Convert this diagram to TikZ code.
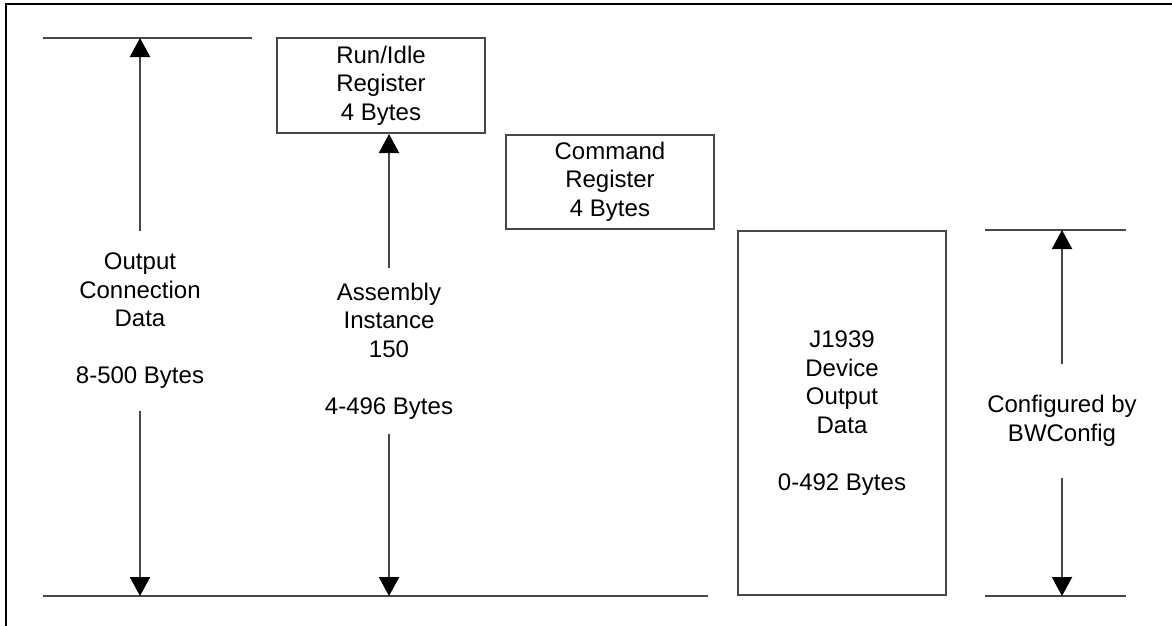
\documentclass[tikz,border=0pt]{standalone}
\usepackage{fontspec}
\setmainfont{Liberation Sans}
\usetikzlibrary{arrows.meta}
\definecolor{linegray}{RGB}{72,72,72}
\def\fs{\fontsize{24}{28.5}\selectfont}
\def\tip{Triangle[length=19pt,width=20pt,color=black,fill=black]}

\begin{document}
\begin{tikzpicture}[x=1pt,y=-1pt,
  box/.style={draw=linegray, line width=2pt, inner sep=0pt, align=center, font=\fs, minimum width=208pt},
  lbl/.style={inner xsep=0pt, align=center, font=\fs},
  rule/.style={draw=linegray, line width=2.2pt},
  dim/.style={draw=linegray, line width=2.2pt, -{\tip}}]
\useasboundingbox (0,0) rectangle (1172,625);

% frame
\draw[line width=2.5pt] (6,630) -- (6,4) -- (1180,4);

% boxes
\node[box, minimum height=95pt] (runidle) at (381,85.5) {Run/Idle\\Register\\4 Bytes};
\node[box, minimum height=94pt] (command) at (610,181.5) {Command\\Register\\4 Bytes};
\node[box, minimum height=364pt] (device) at (842,413) {J1939\\Device\\Output\\Data\\[28.5pt]0-492 Bytes};

% rules
\coordinate (topL) at (43,38);
\coordinate (botL) at (43,596);
\coordinate (topR) at (985,230);
\coordinate (botR) at (985,596);
\draw[rule] (topL) -- (252,38);
\draw[rule] (botL) -- (708,596);
\draw[rule] (topR) -- (1126,230);
\draw[rule] (botR) -- (1126,596);

% labels
\node[lbl, inner ysep=22pt] (outdata) at (140,321) {Output\\Connection\\Data\\[28.5pt]8-500 Bytes};
\node[lbl, inner ysep=15pt] (asm) at (389,351) {Assembly\\Instance\\150\\[28.5pt]4-496 Bytes};
\node[lbl, inner ysep=31pt] (cfg) at (1062,421) {Configured by\\BWConfig};

% arrows
\draw[dim] (outdata.north) -- (outdata.north |- topL);
\draw[dim] (outdata.south) -- (outdata.south |- botL);
\draw[dim] (asm.north) -- (asm.north |- runidle.south);
\draw[dim] (asm.south) -- (asm.south |- botL);
\draw[dim] (cfg.north) -- (cfg.north |- topR);
\draw[dim] (cfg.south) -- (cfg.south |- botR);
\end{tikzpicture}
\end{document}
